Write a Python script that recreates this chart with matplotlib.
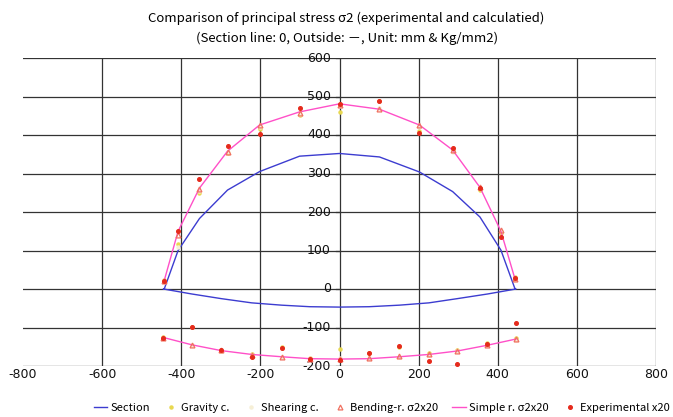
import matplotlib
matplotlib.use("Agg")
import matplotlib.pyplot as plt
import numpy as np

plt.rcParams['font.family'] = ['Noto Sans CJK JP', 'DejaVu Sans']

# Positions along the section (mm): upper arc and lower arc
upper_x = [-443, -408, -354, -283, -202, -101, 0, 101, 202, 286, 355, 408, 443]
lower_x = [-445, -373, -299, -222, -146, -75, 0, 75, 151, 226, 298, 374, 446]

# Section outline
section_upper = [0, 100, 183, 257, 305, 345, 352, 343, 304, 253, 187, 101, 2]
section_lower = [0, -13, -25, -36, -42, -46, -47, -46, -42, -36, -25, -13, 0]

# Gravity / shearing components
gravity_upper = [24, 118, 250, 352, 415, 452, 459, 488, 410, 358, 258, 146, 30]
gravity_lower = [-124, -98, -162, -168, -150, -178, -157, -167, -150, -166, -158, -140, -128]
shearing_upper = [18, 110, 255, 355, 420, 455, 476, 470, 420, 355, 262, 150, 24]
shearing_lower = [-128, -146, -160, -172, -176, -180, -180, -178, -176, -172, -160, -146, -132]

# Bending-r. sigma2 x20
bending_upper = [20, 140, 261, 357, 426, 457, 478, 467, 426, 361, 264, 153, 26]
bending_lower = [-126, -145, -158, -171, -176, -182, -182, -180, -174, -170, -161, -146, -130]

# Simple r. sigma2 x20
simple_upper = [22, 150, 262, 358, 426, 460, 481, 467, 426, 361, 264, 150, 28]
simple_lower = [-126, -145, -160, -170, -176, -181, -182, -181, -176, -170, -161, -146, -130]

# Experimental x20
exp_upper = [22, 150, 287, 371, 403, 471, 481, 488, 406, 365, 262, 136, 28]
exp_lower = [-126, -98, -158, -177, -154, -182, -184, -167, -148, -186, -195, -143, -89]

x_ticks = [-800, -600, -400, -200, 0, 200, 400, 600, 800]
y_ticks = [-200, -100, 0, 100, 200, 300, 400, 500, 600]

fig = plt.figure(figsize=(6.73, 4.17), dpi=100)
ax = fig.add_axes([23 / 673, 1 - 366 / 417, 633 / 673, 308 / 417])
ax.set_xlim(-800, 800)
ax.set_ylim(-200, 600)

# grid
for xv in x_ticks[1:]:
    ax.axvline(xv, color='#333333', lw=0.9, zorder=0)
for yv in y_ticks:
    ax.axhline(yv, color='#333333', lw=0.9, zorder=0)
for s in ax.spines.values():
    s.set_visible(False)
ax.set_xticks([])
ax.set_yticks([])

# x tick labels along the bottom
for xv in x_ticks:
    ax.text(xv, -204, f"{xv}", ha='center', va='top', fontsize=9,
            family='DejaVu Sans', color='#111111')
# y tick labels next to the vertical axis at x = 0
for yv in y_ticks:
    ax.text(-22, yv, f"{yv}", ha='right', va='center', fontsize=9,
            family='DejaVu Sans', color='#111111', clip_on=False)
    ax.plot([-8, 0], [yv, yv], color='#333333', lw=0.9)

sec_x = upper_x + lower_x[::-1]
sec_y = section_upper + section_lower[::-1]
ax.plot(sec_x, sec_y, color='#3c3cd0', lw=1.0, label='Section', zorder=3)

ax.plot(upper_x + lower_x, gravity_upper + gravity_lower, ls='none', marker='o',
        ms=2.2, color='#e8d850', mec='#e8d850', label='Gravity c.', zorder=3)
ax.plot(upper_x + lower_x, shearing_upper + shearing_lower, ls='none', marker='o',
        ms=2.2, color='#f6efd6', mec='#f6efd6', label='Shearing c.', zorder=3)

ax.plot(upper_x, simple_upper, color='#ff50c8', lw=1.0, label='Simple r. σ2x20', zorder=4)
ax.plot(lower_x, simple_lower, color='#ff50c8', lw=1.0, zorder=4)

ax.plot(upper_x + lower_x, bending_upper + bending_lower, ls='none', marker='^',
        ms=3.5, mfc='none', mec='#f07060', mew=0.9, label='Bending-r. σ2x20', zorder=5)

ax.plot(upper_x + lower_x, exp_upper + exp_lower, ls='none', marker='o',
        ms=2.6, color='#e52a1c', mec='#e52a1c', label='Experimental x20', zorder=6)

fig.text(0.515, 0.955, 'Comparison of principal stress σ2 (experimental and calculatied)',
         ha='center', va='center', fontsize=9.5)
fig.text(0.515, 0.908, '(Section line: 0, Outside: －, Unit: mm & Kg/mm2)',
         ha='center', va='center', fontsize=9.5)

handles, labels = ax.get_legend_handles_labels()
order = ['Section', 'Gravity c.', 'Shearing c.', 'Bending-r. σ2x20',
         'Simple r. σ2x20', 'Experimental x20']
hmap = dict(zip(labels, handles))
leg = fig.legend([hmap[k] for k in order], order, loc='center right',
                 bbox_to_anchor=(0.995, 0.022), ncol=6, frameon=False,
                 fontsize=8, handlelength=1.2, handletextpad=0.3,
                 columnspacing=1.3, borderaxespad=0, borderpad=0)

fig.savefig('out.png', dpi=100)
